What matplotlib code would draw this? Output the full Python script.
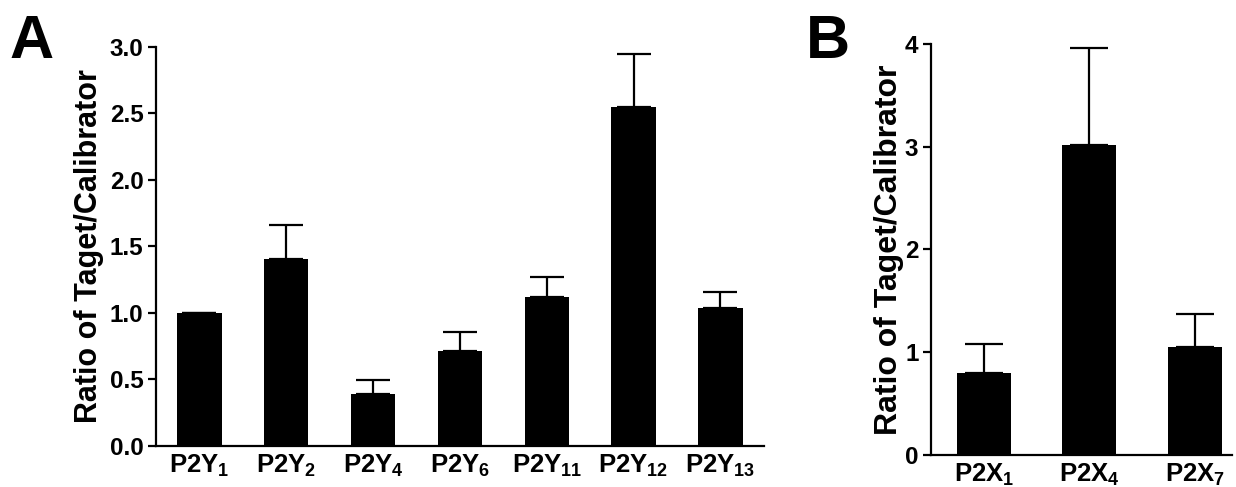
import matplotlib
matplotlib.use("Agg")
import matplotlib.pyplot as plt

plt.rcParams['font.family'] = 'Liberation Sans'
plt.rcParams['font.weight'] = 'bold'
plt.rcParams['mathtext.fontset'] = 'custom'
plt.rcParams['mathtext.rm'] = 'Liberation Sans:bold'
plt.rcParams['mathtext.bf'] = 'Liberation Sans:bold'
plt.rcParams['mathtext.it'] = 'Liberation Sans:bold'

# panel A data
p2y_labels = [r'P2Y$_{1}$', r'P2Y$_{2}$', r'P2Y$_{4}$', r'P2Y$_{6}$',
              r'P2Y$_{11}$', r'P2Y$_{12}$', r'P2Y$_{13}$']
p2y_mean = [1.0, 1.405, 0.394, 0.712, 1.118, 2.544, 1.035]
p2y_err = [0.0, 0.252, 0.10, 0.143, 0.15, 0.403, 0.121]

# panel B data
p2x_labels = [r'P2X$_{1}$', r'P2X$_{4}$', r'P2X$_{7}$']
p2x_mean = [0.795, 3.018, 1.047]
p2x_err = [0.282, 0.941, 0.327]

ylabel = 'Ratio of Taget/Calibrator'

fig = plt.figure(figsize=(12.36, 4.87), dpi=100)
axA = fig.add_axes([0.1262, 0.0842, 0.4918, 0.8198])
axB = fig.add_axes([0.7532, 0.0657, 0.2433, 0.8446])


def style(ax):
    for s in ['top', 'right']:
        ax.spines[s].set_visible(False)
    for s in ['left', 'bottom']:
        ax.spines[s].set_linewidth(1.6)
    ax.tick_params(axis='y', direction='out', length=6, width=1.6, labelsize=17.5, pad=3)
    ax.tick_params(axis='x', length=0, labelsize=18.5, pad=5)


# panel A
xa = range(len(p2y_mean))
axA.bar(xa, p2y_mean, width=0.51, color='black', zorder=3)
axA.errorbar(xa, p2y_mean, yerr=[[0] * len(p2y_err), p2y_err], fmt='none',
             ecolor='black', elinewidth=1.6, capsize=12, capthick=1.6, zorder=2)
axA.set_xlim(-0.5, 6.5)
axA.set_ylim(0, 3.0)
axA.set_yticks([0, 0.5, 1.0, 1.5, 2.0, 2.5, 3.0])
axA.set_yticklabels(['0.0', '0.5', '1.0', '1.5', '2.0', '2.5', '3.0'])
axA.set_xticks(list(xa))
axA.set_xticklabels(p2y_labels)
axA.set_ylabel(ylabel, fontsize=22, fontweight='bold', labelpad=4)
style(axA)

# panel B
xb = range(len(p2x_mean))
axB.bar(xb, p2x_mean, width=0.51, color='black', zorder=3)
axB.errorbar(xb, p2x_mean, yerr=[[0] * len(p2x_err), p2x_err], fmt='none',
             ecolor='black', elinewidth=1.6, capsize=14, capthick=1.6, zorder=2)
axB.set_xlim(-0.5, 2.35)
axB.set_ylim(0, 4)
axB.set_yticks([0, 1, 2, 3, 4])
axB.set_xticks(list(xb))
axB.set_xticklabels(p2x_labels)
axB.set_ylabel(ylabel, fontsize=23, fontweight='bold', labelpad=1)
style(axB)

fig.text(0.008, 0.88, 'A', fontsize=44, fontweight='bold')
fig.text(0.652, 0.88, 'B', fontsize=44, fontweight='bold')

fig.savefig('out.png', dpi=100)
